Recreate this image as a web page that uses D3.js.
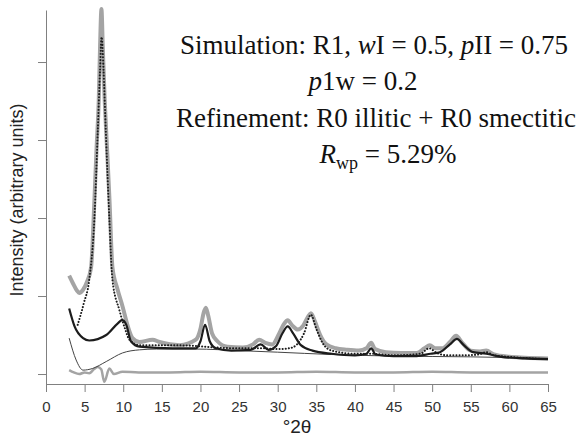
<!DOCTYPE html>
<html>
<head>
<meta charset="utf-8">
<script src="https://cdn.jsdelivr.net/npm/d3@7.9.0/dist/d3.min.js"></script>
<style>
  body { margin: 0; background: #fff; }
  svg { display: block; }
  .tick text { font-family: "Liberation Sans", Arial, sans-serif; font-size: 15px; fill: #333; }
  .note { font-family: "Liberation Serif", "Times New Roman", serif; font-size: 27px; fill: #111; }
</style>
</head>
<body>
<svg id="chart" width="580" height="436"></svg>
<script>
// tick values
let xTicks = d3.range(0, 66, 5);
let yTicks = [0, 1, 2, 3, 4];

// observed pattern (grey)
let obsTheta = [3.0, 3.5, 4.0, 4.3, 4.8, 5.3, 5.84, 6.27, 6.55, 6.83, 7.0, 7.18, 7.35, 7.6, 7.9, 8.22, 8.6, 9.25, 9.93, 10.6,
  11.2, 12.1, 13.8, 14.7, 17.3, 19.4, 20.0, 20.4, 20.7, 21.0, 21.5, 22.2, 23.5, 25.5, 26.8, 27.6, 28.4, 29.3, 30.2, 30.8,
  31.3, 31.9, 32.6, 33.3, 33.9, 34.3, 34.8, 35.5, 36.3, 37.5, 39.0, 40.5, 41.5, 42.1, 42.6, 44.0, 46.0, 48.0, 49.0, 49.7,
  50.4, 51.3, 52.3, 53.1, 53.9, 55.0, 56.2, 57.0, 58.0, 60.0, 62.0, 65.0];
let obsInt = [1.26, 1.16, 1.07, 1.04, 1.08, 1.18, 1.37, 2.23, 2.9, 3.51, 4.2, 4.68, 4.2, 3.51, 2.9, 2.23, 1.37, 1.09, 0.86, 0.61,
  0.46, 0.41, 0.44, 0.41, 0.37, 0.44, 0.58, 0.78, 0.85, 0.75, 0.52, 0.42, 0.35, 0.34, 0.38, 0.44, 0.40, 0.38, 0.52, 0.64,
  0.69, 0.62, 0.57, 0.62, 0.73, 0.78, 0.68, 0.50, 0.38, 0.33, 0.31, 0.30, 0.33, 0.40, 0.32, 0.28, 0.27, 0.27, 0.33, 0.37,
  0.33, 0.33, 0.41, 0.49, 0.40, 0.30, 0.29, 0.30, 0.25, 0.22, 0.21, 0.20];

// R0 smectitic contribution (dotted)
let dotTheta = [4.1, 4.9, 5.6, 6.27, 6.7, 7.0, 7.2, 7.45, 7.75, 8.2, 8.6, 9.5, 10.2, 10.8, 12.1, 16.0, 19.4, 22.0, 25.0, 28.0,
  30.0, 31.5, 32.5, 33.4, 34.3, 35.0, 35.8, 37.0, 40.0, 42.0, 45.0, 48.5, 49.6, 50.6, 52.0, 54.0, 56.0, 57.0, 58.0, 60.0, 65.0];
let dotInt = [0.63, 0.91, 1.21, 2.0, 3.1, 3.9, 4.32, 3.9, 3.1, 2.0, 1.21, 0.82, 0.59, 0.44, 0.37, 0.37, 0.36, 0.34, 0.33, 0.33,
  0.32, 0.33, 0.38, 0.52, 0.76, 0.58, 0.40, 0.30, 0.26, 0.26, 0.24, 0.26, 0.33, 0.27, 0.24, 0.24, 0.25, 0.28, 0.24, 0.22, 0.19];

// R0 illitic contribution (solid)
let solidTheta = [3.0, 3.7, 4.8, 5.6, 7.8, 9.3, 9.85, 10.4, 11.0, 12.1, 16.4, 19.4, 20.0, 20.6, 21.2, 22.0, 24.0, 26.5, 27.8, 28.8,
  29.8, 30.6, 31.3, 32.0, 33.0, 34.5, 37.0, 40.0, 41.5, 42.1, 42.7, 45.0, 48.0, 49.8, 51.0, 52.3, 53.2, 54.1, 55.3, 57.0,
  59.0, 62.0, 65.0];
let solidInt = [0.84, 0.61, 0.46, 0.43, 0.50, 0.65, 0.69, 0.63, 0.42, 0.35, 0.33, 0.33, 0.42, 0.63, 0.42, 0.33, 0.30, 0.31, 0.38, 0.31,
  0.36, 0.52, 0.61, 0.52, 0.37, 0.30, 0.26, 0.24, 0.26, 0.33, 0.25, 0.23, 0.23, 0.26, 0.28, 0.38, 0.45, 0.37, 0.28, 0.26,
  0.22, 0.20, 0.19];

// background (thin)
let bgTheta = [3.0, 3.9, 4.8, 6.0, 7.8, 9.9, 12.1, 14.3, 19.4, 25.0, 30.0, 37.0, 45.0, 55.0, 65.0];
let bgInt = [0.46, 0.18, 0.05, 0.07, 0.16, 0.27, 0.31, 0.32, 0.32, 0.30, 0.28, 0.25, 0.23, 0.22, 0.20];

// difference curve (grey, bottom)
let diffTheta = [3.0, 3.6, 4.3, 5.0, 5.6, 6.2, 6.7, 7.15, 7.55, 8.2, 8.8, 9.9, 12.0, 16.0, 20.0, 25.0, 30.0, 35.0, 40.0, 45.0,
  50.0, 55.0, 60.0, 65.0];
let diffInt = [0.05, 0.02, 0.0, 0.02, 0.01, 0.06, 0.09, 0.06, -0.10, 0.07, 0.0, 0.03, 0.02, 0.02, 0.03, 0.02, 0.02, 0.03, 0.02, 0.02,
  0.03, 0.02, 0.02, 0.02];

const svg = d3.select('#chart');

let x = d3.scaleLinear().domain([0, 65]).range([46, 548]);
let y = d3.scaleLinear().domain([-0.128, 4.667]).range([384, 10]);

let line = d3.line()
    .x((d) => x(d[0]))
    .y((d) => y(d[1]))
    .curve(d3.curveMonotoneX);

function pairs(a, b) {
    return a.map((t, i) => [t, b[i]]);
}

// curves
svg.append('path')
    .attr('d', line(pairs(obsTheta, obsInt)))
    .attr('fill', 'none')
    .attr('stroke', '#a4a4a4')
    .attr('stroke-width', 4)
    .attr('stroke-linejoin', 'round');

svg.append('path')
    .attr('d', line(pairs(diffTheta, diffInt)))
    .attr('fill', 'none')
    .attr('stroke', '#a4a4a4')
    .attr('stroke-width', 2.5);

svg.append('path')
    .attr('d', line(pairs(bgTheta, bgInt)))
    .attr('fill', 'none')
    .attr('stroke', '#444')
    .attr('stroke-width', 1);

svg.append('path')
    .attr('d', line(pairs(solidTheta, solidInt)))
    .attr('fill', 'none')
    .attr('stroke', '#1c1c1c')
    .attr('stroke-width', 2.2);

svg.append('path')
    .attr('d', line(pairs(dotTheta, dotInt)))
    .attr('fill', 'none')
    .attr('stroke', '#1c1c1c')
    .attr('stroke-width', 2)
    .attr('stroke-linecap', 'round')
    .attr('stroke-dasharray', '0.1,3');

// axes
let xAxis = svg.append('g')
    .attr('transform', 'translate(0,384)')
    .call(d3.axisBottom(x).tickValues(xTicks).tickSize(8).tickSizeOuter(0).tickPadding(9));

let yAxis = svg.append('g')
    .attr('transform', 'translate(46,0)')
    .call(d3.axisLeft(y).tickValues(yTicks).tickSize(8).tickSizeOuter(0).tickFormat(''));

svg.selectAll('.domain, .tick line').attr('stroke', '#808080');

svg.append('text')
    .attr('x', 297)
    .attr('y', 433)
    .attr('text-anchor', 'middle')
    .style('font-family', '"Liberation Sans", Arial, sans-serif')
    .style('font-size', '19px')
    .style('fill', '#222')
    .text('°2θ');

svg.append('text')
    .attr('transform', 'translate(23,200) rotate(-90)')
    .attr('text-anchor', 'middle')
    .style('font-family', '"Liberation Sans", Arial, sans-serif')
    .style('font-size', '18px')
    .style('fill', '#222')
    .text('Intensity (arbitrary units)');

// annotation
let l1 = svg.append('text').attr('class', 'note').attr('x', 374).attr('y', 54).attr('text-anchor', 'middle');
l1.append('tspan').text('Simulation: R1, ');
l1.append('tspan').style('font-style', 'italic').text('w');
l1.append('tspan').text('I = 0.5, ');
l1.append('tspan').style('font-style', 'italic').text('p');
l1.append('tspan').text('II = 0.75');

let l2 = svg.append('text').attr('class', 'note').attr('x', 363).attr('y', 90).attr('text-anchor', 'middle');
l2.append('tspan').style('font-style', 'italic').text('p');
l2.append('tspan').text('1w = 0.2');

svg.append('text').attr('class', 'note').attr('x', 376).attr('y', 127).attr('text-anchor', 'middle')
    .text('Refinement: R0 illitic + R0 smectitic');

let l4 = svg.append('text').attr('class', 'note').attr('x', 388).attr('y', 163).attr('text-anchor', 'middle');
l4.append('tspan').style('font-style', 'italic').text('R');
l4.append('tspan').attr('dy', 6).style('font-size', '18px').text('wp');
l4.append('tspan').attr('dy', -6).text(' = 5.29%');
</script>
</body>
</html>
